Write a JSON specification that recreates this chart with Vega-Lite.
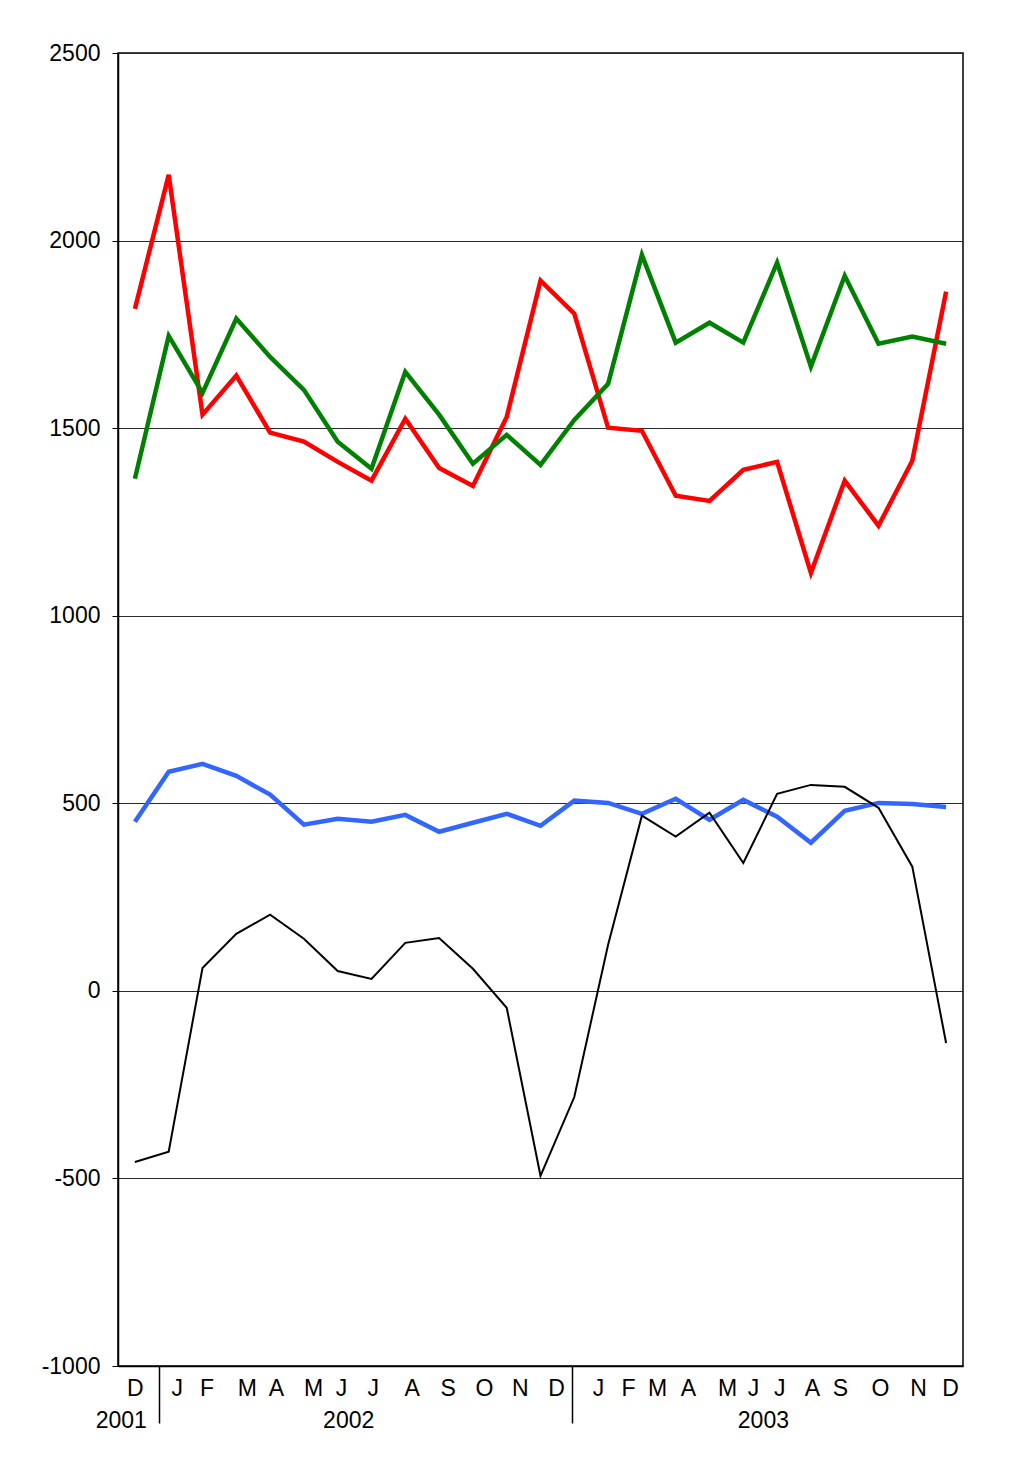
{
  "$schema": "https://vega.github.io/schema/vega-lite/v6.json",
  "autosize": {"type": "none"},
  "padding": {"left": 118, "top": 53, "right": 48, "bottom": 113},
  "width": 845,
  "height": 1313,
  "background": "white",
  "config": {
    "font": "Liberation Sans",
    "view": {"stroke": "black", "strokeWidth": 1.5},
    "axis": {"labelFont": "Liberation Sans", "labelFontSize": 23, "labelColor": "black"}
  },
  "datasets": {
    "main": [
      {"i": 0, "s": "red", "v": 1818}, {"i": 1, "s": "red", "v": 2175}, {"i": 2, "s": "red", "v": 1536}, {"i": 3, "s": "red", "v": 1640}, {"i": 4, "s": "red", "v": 1488}, {"i": 5, "s": "red", "v": 1464}, {"i": 6, "s": "red", "v": 1410}, {"i": 7, "s": "red", "v": 1360}, {"i": 8, "s": "red", "v": 1525}, {"i": 9, "s": "red", "v": 1394}, {"i": 10, "s": "red", "v": 1346}, {"i": 11, "s": "red", "v": 1530}, {"i": 12, "s": "red", "v": 1893}, {"i": 13, "s": "red", "v": 1805}, {"i": 14, "s": "red", "v": 1501}, {"i": 15, "s": "red", "v": 1493}, {"i": 16, "s": "red", "v": 1320}, {"i": 17, "s": "red", "v": 1306}, {"i": 18, "s": "red", "v": 1389}, {"i": 19, "s": "red", "v": 1410}, {"i": 20, "s": "red", "v": 1114}, {"i": 21, "s": "red", "v": 1360}, {"i": 22, "s": "red", "v": 1240}, {"i": 23, "s": "red", "v": 1413}, {"i": 24, "s": "red", "v": 1864},
      {"i": 0, "s": "green", "v": 1365}, {"i": 1, "s": "green", "v": 1746}, {"i": 2, "s": "green", "v": 1594}, {"i": 3, "s": "green", "v": 1792}, {"i": 4, "s": "green", "v": 1690}, {"i": 5, "s": "green", "v": 1602}, {"i": 6, "s": "green", "v": 1464}, {"i": 7, "s": "green", "v": 1392}, {"i": 8, "s": "green", "v": 1650}, {"i": 9, "s": "green", "v": 1536}, {"i": 10, "s": "green", "v": 1405}, {"i": 11, "s": "green", "v": 1482}, {"i": 12, "s": "green", "v": 1402}, {"i": 13, "s": "green", "v": 1522}, {"i": 14, "s": "green", "v": 1618}, {"i": 15, "s": "green", "v": 1962}, {"i": 16, "s": "green", "v": 1728}, {"i": 17, "s": "green", "v": 1781}, {"i": 18, "s": "green", "v": 1728}, {"i": 19, "s": "green", "v": 1941}, {"i": 20, "s": "green", "v": 1664}, {"i": 21, "s": "green", "v": 1906}, {"i": 22, "s": "green", "v": 1725}, {"i": 23, "s": "green", "v": 1744}, {"i": 24, "s": "green", "v": 1725},
      {"i": 0, "s": "blue", "v": 451}, {"i": 1, "s": "blue", "v": 584}, {"i": 2, "s": "blue", "v": 605}, {"i": 3, "s": "blue", "v": 573}, {"i": 4, "s": "blue", "v": 523}, {"i": 5, "s": "blue", "v": 443}, {"i": 6, "s": "blue", "v": 459}, {"i": 7, "s": "blue", "v": 451}, {"i": 8, "s": "blue", "v": 469}, {"i": 9, "s": "blue", "v": 424}, {"i": 10, "s": "blue", "v": 448}, {"i": 11, "s": "blue", "v": 472}, {"i": 12, "s": "blue", "v": 440}, {"i": 13, "s": "blue", "v": 507}, {"i": 14, "s": "blue", "v": 501}, {"i": 15, "s": "blue", "v": 472}, {"i": 16, "s": "blue", "v": 512}, {"i": 17, "s": "blue", "v": 456}, {"i": 18, "s": "blue", "v": 509}, {"i": 19, "s": "blue", "v": 464}, {"i": 20, "s": "blue", "v": 395}, {"i": 21, "s": "blue", "v": 480}, {"i": 22, "s": "blue", "v": 501}, {"i": 23, "s": "blue", "v": 498}, {"i": 24, "s": "blue", "v": 490}
    ],
    "black": [
      {"i": 0, "v": -456}, {"i": 1, "v": -429}, {"i": 2, "v": 61}, {"i": 3, "v": 152}, {"i": 4, "v": 203}, {"i": 5, "v": 139}, {"i": 6, "v": 53}, {"i": 7, "v": 32}, {"i": 8, "v": 128}, {"i": 9, "v": 141}, {"i": 10, "v": 59}, {"i": 11, "v": -45}, {"i": 12, "v": -493}, {"i": 13, "v": -283}, {"i": 14, "v": 123}, {"i": 15, "v": 467}, {"i": 16, "v": 411}, {"i": 17, "v": 475}, {"i": 18, "v": 341}, {"i": 19, "v": 525}, {"i": 20, "v": 549}, {"i": 21, "v": 544}, {"i": 22, "v": 488}, {"i": 23, "v": 331}, {"i": 24, "v": -139}
    ]
  },
  "resolve": {"axis": {"x": "independent"}},
  "layer": [
    {
      "data": {"name": "main"},
      "mark": {"type": "line", "strokeWidth": 4.5, "strokeJoin": "miter"},
      "encoding": {
        "x": {
          "field": "i", "type": "quantitative",
          "scale": {"domain": [-0.5, 24.5], "nice": false, "zero": false},
          "axis": {
            "orient": "bottom", "title": null, "grid": false, "ticks": false,
            "domain": true, "domainColor": "black", "domainWidth": 1.5,
            "values": [0, 1.24, 2.12, 3.31, 4.17, 5.27, 6.1, 7.04, 8.19, 9.25, 10.33, 11.39, 12.46, 13.7, 14.59, 15.45, 16.36, 17.52, 18.29, 19.06, 20.03, 20.86, 22.04, 23.17, 24.12],
            "labelExpr": "['D','J','F','M','A','M','J','J','A','S','O','N','D','J','F','M','A','M','J','J','A','S','O','N','D'][indexof([0, 1.24, 2.12, 3.31, 4.17, 5.27, 6.1, 7.04, 8.19, 9.25, 10.33, 11.39, 12.46, 13.7, 14.59, 15.45, 16.36, 17.52, 18.29, 19.06, 20.03, 20.86, 22.04, 23.17, 24.12], datum.value)]",
            "labelPadding": 11, "labelFlush": false, "labelOverlap": false
          }
        },
        "y": {
          "field": "v", "type": "quantitative",
          "scale": {"domain": [-1000, 2500], "nice": false},
          "axis": {
            "title": null, "values": [-1000, -500, 0, 500, 1000, 1500, 2000, 2500],
            "labelExpr": "'' + datum.value",
            "grid": true, "gridColor": "#2a2a2a", "gridWidth": 1,
            "ticks": true, "tickSize": 6, "tickColor": "black",
            "domainColor": "black", "domainWidth": 1.5,
            "labelPadding": 12, "labelFlush": false, "labelOverlap": false
          }
        },
        "color": {
          "field": "s", "type": "nominal", "legend": null,
          "scale": {"domain": ["green", "red", "blue"], "range": ["#008000", "#FF0000", "#3366FF"]}
        },
        "order": {"field": "i"}
      }
    },
    {
      "data": {"name": "black"},
      "mark": {"type": "line", "strokeWidth": 2, "color": "black"},
      "encoding": {
        "x": {
          "field": "i", "type": "quantitative",
          "axis": {
            "orient": "bottom", "title": null, "grid": false, "domain": false,
            "values": [-0.42, 0.71, 6.31, 12.93, 18.58],
            "labelExpr": "datum.value == -0.42 ? '2001' : datum.value == 6.31 ? '2002' : datum.value == 18.58 ? '2003' : ''",
            "ticks": true, "tickSize": 57, "tickColor": "black", "tickWidth": 1.5,
            "tickOpacity": {"condition": {"test": "datum.value == 0.71 || datum.value == 12.93", "value": 1}, "value": 0},
            "labelPadding": -14, "labelFlush": false, "labelOverlap": false
          }
        },
        "y": {"field": "v", "type": "quantitative"}
      }
    }
  ]
}
